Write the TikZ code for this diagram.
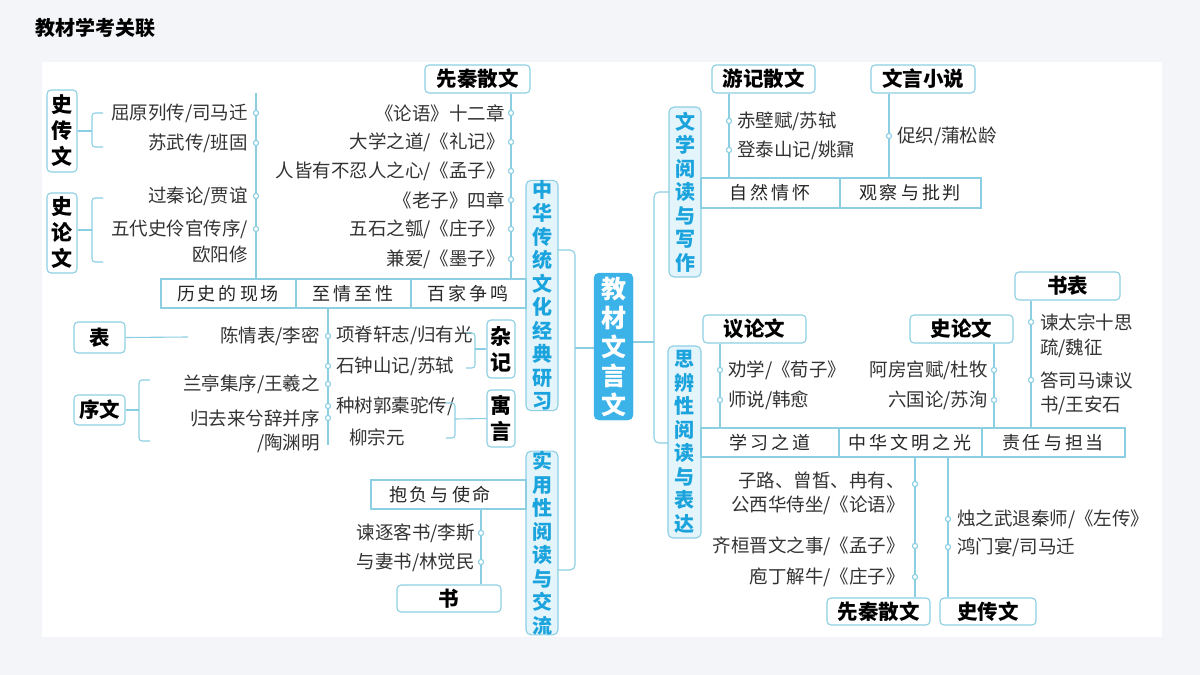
\documentclass[tikz,border=0pt]{standalone}
\usepackage{fontspec}
\setmainfont{Noto Sans CJK SC}
\definecolor{lnc}{HTML}{8CCFE3}
\definecolor{catfill}{HTML}{E3F4FB}
\definecolor{catblue}{HTML}{1AA3DC}
\definecolor{corefill}{HTML}{3BB3E8}
\definecolor{pagebg}{HTML}{F3F5F8}
\newcommand\bx[7]{\node[#6,minimum width={(#4-#2)*1pt},minimum height={(#5-#3)*1pt}] (#1) at ({(#2+#4)/2},{(#3+#5)/2}) {#7};}
\newcommand\dt[2]{\draw[ln,fill=white] (#1,#2) circle[radius=2.6];}
\begin{document}
\begin{tikzpicture}[x=1pt,y=-1pt,
  ln/.style={draw=lnc,line width=1.1pt},
  tbox/.style={ln,rounded corners=4pt,fill=white,inner sep=0pt,font=\fontsize{20.5}{23}\selectfont\bfseries},
  catbox/.style={ln,rounded corners=5pt,fill=catfill,inner sep=0pt,text=catblue,align=center,font=\fontsize{20}{23.5}\selectfont\bfseries},
  corebox/.style={draw=corefill,rounded corners=5pt,fill=corefill,inner sep=0pt,text=white,align=center,font=\fontsize{25}{29}\selectfont\bfseries},
  item/.style={inner sep=0pt,text=black!80,font=\fontsize{18.5}{21}\selectfont},
  rowtxt/.style={inner sep=0pt,text=black!85,font=\fontsize{18}{20}\selectfont}]
  % background
  \fill[pagebg] (0,0) rectangle (1200,675);
  \fill[white] (42,62) rectangle (1162,637);
  \node[anchor=west,inner sep=0pt,font=\fontsize{20}{22}\selectfont\bfseries] (title) at (35,28) {教材学考关联};

  % spines
  \draw[ln,rounded corners=5pt] (558,250) -- (575,250) -- (575,570) -- (558,570);
  \draw[ln] (575,348) -- (594,348);
  \draw[ln,rounded corners=5pt] (669,192) -- (654,192) -- (654,443) -- (669,443);
  \draw[ln] (633,342) -- (654,342);

  % core and category boxes
  \bx{core}{594}{273}{633}{420}{corebox}{教\\材\\文\\言\\文}
  \bx{zhonghua}{526}{181}{558}{410}{catbox}{中\\华\\传\\统\\文\\化\\经\\典\\研\\习}
  \bx{shiyong}{526}{453}{558}{633}{catbox}{实\\用\\性\\阅\\读\\与\\交\\流}
  \bx{wenxue}{669}{107}{701}{277}{catbox}{文\\学\\阅\\读\\与\\写\\作}
  \bx{sibian}{668}{346}{701}{538}{catbox}{思\\辨\\性\\阅\\读\\与\\表\\达}

  % rows
  \draw[ln] (161,279) rectangle (526,308) (296,279) -- (296,308) (411,279) -- (411,308);
  \node[rowtxt] (lishi) at (228,294) {历\,史\,的\,现\,场};
  \node[rowtxt] (zhiqing) at (353,294) {至\,情\,至\,性};
  \node[rowtxt] (baijia) at (468,294) {百\,家\,争\,鸣};
  \draw[ln] (371,480) rectangle (526,509);
  \node[rowtxt] (baofu) at (440,495) {抱\,负\,与\,使\,命};
  \draw[ln] (701,178) rectangle (981,208) (840,178) -- (840,208);
  \node[rowtxt] (ziran) at (770,193) {自\,然\,情\,怀};
  \node[rowtxt] (guancha) at (910,193) {观\,察\,与\,批\,判};
  \draw[ln] (701,428) rectangle (1125,457) (839,428) -- (839,457) (982,428) -- (982,457);
  \node[rowtxt] (xuexi) at (770,443) {学\,习\,之\,道};
  \node[rowtxt] (wenming) at (910,443) {中\,华\,文\,明\,之\,光};
  \node[rowtxt] (zeren) at (1053,443) {责\,任\,与\,担\,当};

  % title boxes
  \bx{xianqinA}{425}{65}{530}{93}{tbox}{先秦散文}
  \bx{shizhuanA}{47}{90}{77}{172}{tbox,align=center,font=\fontsize{21}{26}\selectfont\bfseries}{史\\传\\文}
  \bx{shilunA}{47}{193}{77}{273}{tbox,align=center,font=\fontsize{21}{26}\selectfont\bfseries}{史\\论\\文}
  \bx{biao}{74}{322}{125}{353}{tbox}{表}
  \bx{xuwen}{74}{395}{125}{425}{tbox}{序文}
  \bx{zaji}{487}{320}{515}{378}{tbox,align=center,font=\fontsize{21}{26}\selectfont\bfseries}{杂\\记}
  \bx{yuyan}{487}{390}{515}{447}{tbox,align=center,font=\fontsize{21}{26}\selectfont\bfseries}{寓\\言}
  \bx{shu}{397}{585}{501}{612}{tbox}{书}
  \bx{youji}{712}{65}{815}{93}{tbox}{游记散文}
  \bx{xiaoshuo}{871}{65}{975}{93}{tbox}{文言小说}
  \bx{yilun}{703}{315}{806}{343}{tbox}{议论文}
  \bx{shilunB}{910}{315}{1013}{343}{tbox}{史论文}
  \bx{shubiao}{1015}{272}{1120}{300}{tbox}{书表}
  \bx{xianqinB}{827}{598}{930}{625}{tbox}{先秦散文}
  \bx{shizhuanB}{940}{598}{1036}{625}{tbox}{史传文}

  % column: 历史的现场
  \draw[ln] (256,93) -- (256,279);
  \foreach \y in {113,143,196,229} {\dt{256}{\y}}
  \node[item,anchor=east] at (248,113) {屈原列传/司马迁};
  \node[item,anchor=east] at (248,143) {苏武传/班固};
  \node[item,anchor=east] at (248,196) {过秦论/贾谊};
  \node[item,anchor=east] at (248,229) {五代史伶官传序/};
  \node[item,anchor=east] at (248,254) {欧阳修};
  \draw[ln,rounded corners=3pt] (103,113) -- (92,113) -- (92,147) -- (103,147);
  \draw[ln] (shizhuanA.east |- 0,131) -- (92,131);
  \draw[ln,rounded corners=3pt] (103,198) -- (92,198) -- (92,262) -- (103,262);
  \draw[ln] (shilunA.east |- 0,230) -- (92,230);

  % column: 百家争鸣
  \draw[ln] (xianqinA.south -| 511,0) -- (511,279);
  \foreach \y in {113,142,171,200,229,259} {\dt{511}{\y}}
  \node[item,anchor=east] at (505,113) {《论语》十二章};
  \node[item,anchor=east] at (505,142) {大学之道/《礼记》};
  \node[item,anchor=east] at (505,171) {人皆有不忍人之心/《孟子》};
  \node[item,anchor=east] at (505,200) {《老子》四章};
  \node[item,anchor=east] at (505,229) {五石之瓠/《庄子》};
  \node[item,anchor=east] at (505,259) {兼爱/《墨子》};

  % column: 至情至性
  \draw[ln] (328,308) -- (328,445);
  \foreach \y in {336,366,384,406,418} {\dt{328}{\y}}
  \node[item,anchor=east] at (320,336) {陈情表/李密};
  \node[item,anchor=east] at (320,384) {兰亭集序/王羲之};
  \node[item,anchor=east] at (320,418) {归去来兮辞并序};
  \node[item,anchor=east] at (320,443) {/陶渊明};
  \node[item,anchor=west] at (336,335) {项脊轩志/归有光};
  \node[item,anchor=west] at (336,366) {石钟山记/苏轼};
  \node[item,anchor=west] at (336,406) {种树郭橐驼传/};
  \node[item] at (377,437) {柳宗元};
  \draw[ln] (biao.east) -- (188,337);
  \draw[ln,rounded corners=3pt] (150,380) -- (139,380) -- (139,441) -- (150,441);
  \draw[ln] (xuwen.east) -- (139,410);
  \draw[ln,rounded corners=3pt] (466,333) -- (475,333) -- (475,368) -- (466,368);
  \draw[ln] (475,349) -- (zaji.west);
  \draw[ln,rounded corners=3pt] (446,403) -- (455,403) -- (455,438) -- (446,438);
  \draw[ln] (455,419) -- (yuyan.west);

  % column: 抱负与使命
  \draw[ln] (481,509) -- (shu.north -| 481,0);
  \foreach \y in {533,562} {\dt{481}{\y}}
  \node[item,anchor=east] at (475,533) {谏逐客书/李斯};
  \node[item,anchor=east] at (475,562) {与妻书/林觉民};

  % column: 自然情怀 / 观察与批判
  \draw[ln] (youji.south -| 729,0) -- (729,178);
  \foreach \y in {121,150} {\dt{729}{\y}}
  \node[item,anchor=west] at (737,121) {赤壁赋/苏轼};
  \node[item,anchor=west] at (737,150) {登泰山记/姚鼐};
  \draw[ln] (xiaoshuo.south -| 889,0) -- (889,178);
  \dt{889}{136}
  \node[item,anchor=west] at (897,136) {促织/蒲松龄};

  % columns: 思辨性阅读与表达
  \draw[ln] (yilun.south -| 720,0) -- (720,428);
  \foreach \y in {370,400} {\dt{720}{\y}}
  \node[item,anchor=west] at (728,370) {劝学/《荀子》};
  \node[item,anchor=west] at (728,400) {师说/韩愈};
  \draw[ln] (shilunB.south -| 994,0) -- (994,428);
  \foreach \y in {370,400} {\dt{994}{\y}}
  \node[item,anchor=east] at (988,370) {阿房宫赋/杜牧};
  \node[item,anchor=east] at (988,400) {六国论/苏洵};
  \draw[ln] (shubiao.south -| 1031,0) -- (1031,428);
  \foreach \y in {322,380} {\dt{1031}{\y}}
  \node[item,anchor=west] at (1040,322) {谏太宗十思};
  \node[item,anchor=west] at (1040,348) {疏/魏征};
  \node[item,anchor=west] at (1040,380) {答司马谏议};
  \node[item,anchor=west] at (1040,405) {书/王安石};
  \draw[ln] (915,457) -- (xianqinB.north -| 915,0);
  \foreach \y in {484,546,577} {\dt{915}{\y}}
  \node[item,anchor=east] at (905,480) {子路、曾皙、冉有、};
  \node[item,anchor=east] at (905,505) {公西华侍坐/《论语》};
  \node[item,anchor=east] at (905,546) {齐桓晋文之事/《孟子》};
  \node[item,anchor=east] at (905,577) {庖丁解牛/《庄子》};
  \draw[ln] (948,457) -- (shizhuanB.north -| 948,0);
  \foreach \y in {519,547} {\dt{948}{\y}}
  \node[item,anchor=west] at (957,519) {烛之武退秦师/《左传》};
  \node[item,anchor=west] at (957,547) {鸿门宴/司马迁};
\end{tikzpicture}
\end{document}
